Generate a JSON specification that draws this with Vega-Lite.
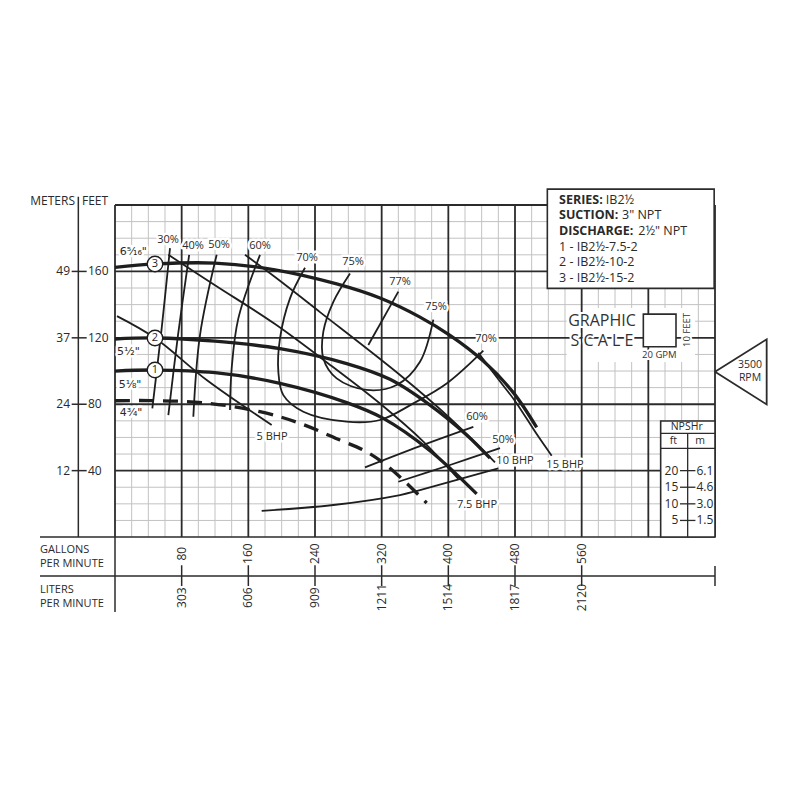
{
"$schema": "https://vega.github.io/schema/vega-lite/v6.json",
"width": 800, "height": 800, "autosize": {"type": "none"}, "padding": 0,
"background": "white",
"config": {"view": {"stroke": null}, "font": "Open Sans"},
"encoding": {
  "x": {"field": "x", "type": "quantitative", "scale": {"domain": [-138, 822], "nice": false, "zero": false}, "axis": null},
  "y": {"field": "y", "type": "quantitative", "scale": {"domain": [-158.4, 323.5], "nice": false, "zero": false}, "axis": null}
},
"datasets": {
  "minor": [
    {"x":20,"x2":20,"y":0,"y2":200},{"x":40,"x2":40,"y":0,"y2":200},{"x":60,"x2":60,"y":0,"y2":200},{"x":100,"x2":100,"y":0,"y2":200},
    {"x":120,"x2":120,"y":0,"y2":200},{"x":140,"x2":140,"y":0,"y2":200},{"x":180,"x2":180,"y":0,"y2":200},{"x":200,"x2":200,"y":0,"y2":200},
    {"x":220,"x2":220,"y":0,"y2":200},{"x":260,"x2":260,"y":0,"y2":200},{"x":280,"x2":280,"y":0,"y2":200},{"x":300,"x2":300,"y":0,"y2":200},
    {"x":340,"x2":340,"y":0,"y2":200},{"x":360,"x2":360,"y":0,"y2":200},{"x":380,"x2":380,"y":0,"y2":200},{"x":420,"x2":420,"y":0,"y2":200},
    {"x":440,"x2":440,"y":0,"y2":200},{"x":460,"x2":460,"y":0,"y2":200},{"x":500,"x2":500,"y":0,"y2":200},{"x":520,"x2":520,"y":0,"y2":200},
    {"x":540,"x2":540,"y":0,"y2":200},{"x":580,"x2":580,"y":0,"y2":200},{"x":600,"x2":600,"y":0,"y2":200},{"x":620,"x2":620,"y":0,"y2":200},
    {"x":660,"x2":660,"y":0,"y2":200},{"x":680,"x2":680,"y":0,"y2":200},{"x":700,"x2":700,"y":0,"y2":200},
    {"x":0,"x2":720,"y":10,"y2":10},{"x":0,"x2":720,"y":20,"y2":20},{"x":0,"x2":720,"y":30,"y2":30},{"x":0,"x2":720,"y":50,"y2":50},
    {"x":0,"x2":720,"y":60,"y2":60},{"x":0,"x2":720,"y":70,"y2":70},{"x":0,"x2":720,"y":90,"y2":90},{"x":0,"x2":720,"y":100,"y2":100},
    {"x":0,"x2":720,"y":110,"y2":110},{"x":0,"x2":720,"y":130,"y2":130},{"x":0,"x2":720,"y":140,"y2":140},{"x":0,"x2":720,"y":150,"y2":150},
    {"x":0,"x2":720,"y":170,"y2":170},{"x":0,"x2":720,"y":180,"y2":180},{"x":0,"x2":720,"y":190,"y2":190}
  ],
  "gsbg": [{"x":542,"x2":696,"y":138,"y2":105.4}],
  "major": [
    {"x":0,"x2":0,"y":0,"y2":200},{"x":80,"x2":80,"y":0,"y2":200},{"x":160,"x2":160,"y":0,"y2":200},{"x":240,"x2":240,"y":0,"y2":200},
    {"x":320,"x2":320,"y":0,"y2":200},{"x":400,"x2":400,"y":0,"y2":200},{"x":480,"x2":480,"y":0,"y2":200},{"x":560,"x2":560,"y":0,"y2":200},
    {"x":640,"x2":640,"y":0,"y2":200},{"x":720,"x2":720,"y":0,"y2":200},
    {"x":0,"x2":720,"y":40,"y2":40},{"x":0,"x2":720,"y":80,"y2":80},{"x":0,"x2":720,"y":120,"y2":120},{"x":0,"x2":720,"y":160,"y2":160},{"x":0,"x2":720,"y":200,"y2":200}
  ],
  "axislines": [
    {"x":-44,"x2":-44,"y":205,"y2":0},
    {"x":-90,"x2":720,"y":0,"y2":0},
    {"x":-90,"x2":720,"y":-23.5,"y2":-23.5},
    {"x":0,"x2":0,"y":0,"y2":-45.2},
    {"x":720,"x2":720,"y":-17.5,"y2":-29.5},
    {"x":-52,"x2":-34,"y":160,"y2":160},{"x":-52,"x2":-34,"y":120,"y2":120},{"x":-52,"x2":-34,"y":80,"y2":80},{"x":-52,"x2":-34,"y":40,"y2":40},
    {"x":80,"x2":80,"y":-17,"y2":-29.5},{"x":160,"x2":160,"y":-17,"y2":-29.5},{"x":240,"x2":240,"y":-17,"y2":-29.5},{"x":320,"x2":320,"y":-17,"y2":-29.5},
    {"x":400,"x2":400,"y":-17,"y2":-29.5},{"x":480,"x2":480,"y":-17,"y2":-29.5},{"x":560,"x2":560,"y":-17,"y2":-29.5}
  ],
  "boxes": [
    {"x":518.8,"x2":719,"y":209.6,"y2":149.8},
    {"x":654.8,"x2":720,"y":69.9,"y2":0},
    {"x":634,"x2":673.2,"y":134.3,"y2":114.6}
  ],
  "npshlines": [
    {"x":654.8,"x2":720,"y":62.5,"y2":62.5},{"x":654.8,"x2":720,"y":53.4,"y2":53.4},{"x":687.2,"x2":687.2,"y":62.5,"y2":0},
    {"x":678,"x2":696.5,"y":40,"y2":40},{"x":678,"x2":696.5,"y":30,"y2":30},{"x":678,"x2":696.5,"y":20,"y2":20},{"x":678,"x2":696.5,"y":10,"y2":10}
  ],
  "heads": [
    {"g":"c3","o":1,"x":0,"y":162.5},{"g":"c3","o":2,"x":48,"y":164.5},{"g":"c3","o":3,"x":120,"y":165},{"g":"c3","o":4,"x":192,"y":161},
    {"g":"c3","o":5,"x":266,"y":152.5},{"g":"c3","o":6,"x":318,"y":144},{"g":"c3","o":7,"x":366,"y":132.5},{"g":"c3","o":8,"x":402,"y":121.5},
    {"g":"c3","o":9,"x":442,"y":106},{"g":"c3","o":10,"x":478,"y":87},{"g":"c3","o":11,"x":506,"y":66},
    {"g":"c2","o":1,"x":0,"y":119.3},{"g":"c2","o":2,"x":48,"y":119.9},{"g":"c2","o":3,"x":120,"y":118},{"g":"c2","o":4,"x":198,"y":113.5},
    {"g":"c2","o":5,"x":278,"y":104.5},{"g":"c2","o":6,"x":330,"y":95},{"g":"c2","o":7,"x":378,"y":79.5},{"g":"c2","o":8,"x":422,"y":61.5},
    {"g":"c2","o":9,"x":450,"y":47.5},
    {"g":"c1","o":1,"x":0,"y":100},{"g":"c1","o":2,"x":48,"y":100.6},{"g":"c1","o":3,"x":120,"y":99},{"g":"c1","o":4,"x":198,"y":92.6},
    {"g":"c1","o":5,"x":278,"y":81},{"g":"c1","o":6,"x":322,"y":71.5},{"g":"c1","o":7,"x":378,"y":52},{"g":"c1","o":8,"x":434,"y":26}
  ],
  "dashed": [
    {"o":1,"x":0,"y":82.1},{"o":2,"x":42,"y":82.2},{"o":3,"x":106,"y":80.9},{"o":4,"x":174,"y":75.5},{"o":5,"x":222,"y":68.5},
    {"o":6,"x":270,"y":58.4},{"o":7,"x":298,"y":52.4},{"o":8,"x":320,"y":45.4},{"o":9,"x":346,"y":34.3},{"o":10,"x":374,"y":20.5}
  ],
  "thin": [
    {"g":"e30","o":1,"x":66,"y":174},{"g":"e30","o":2,"x":56,"y":125.7},{"g":"e30","o":3,"x":44.8,"y":77.5},
    {"g":"e40","o":1,"x":89,"y":170},{"g":"e40","o":2,"x":75.6,"y":121.7},{"g":"e40","o":3,"x":64,"y":73.5},
    {"g":"e50","o":1,"x":122,"y":170},{"g":"e50","o":2,"x":102,"y":121.7},{"g":"e50","o":3,"x":94,"y":72.5},
    {"g":"e60","o":1,"x":174,"y":170},{"g":"e60","o":2,"x":148,"y":131.7},{"g":"e60","o":3,"x":140,"y":101.6},{"g":"e60","o":4,"x":138,"y":76.5},
    {"g":"e70","o":1,"x":228,"y":162.2},{"g":"e70","o":2,"x":210,"y":143.8},{"g":"e70","o":3,"x":198,"y":119.7},{"g":"e70","o":4,"x":196,"y":99.6},
    {"g":"e70","o":5,"x":202,"y":85.5},{"g":"e70","o":6,"x":226,"y":75.5},{"g":"e70","o":7,"x":278,"y":69.5},{"g":"e70","o":8,"x":318,"y":70.5},
    {"g":"e70","o":9,"x":358,"y":80.5},{"g":"e70","o":10,"x":398,"y":92.5},{"g":"e70","o":11,"x":442,"y":112.3},
    {"g":"e75","o":1,"x":282,"y":158.8},{"g":"e75","o":2,"x":262,"y":141.7},{"g":"e75","o":3,"x":250,"y":123.7},{"g":"e75","o":4,"x":250,"y":107.6},
    {"g":"e75","o":5,"x":266,"y":95.6},{"g":"e75","o":6,"x":302,"y":88.6},{"g":"e75","o":7,"x":338,"y":91.6},{"g":"e75","o":8,"x":366,"y":105.6},
    {"g":"e75","o":9,"x":382,"y":131},
    {"g":"e77","o":1,"x":340,"y":147.8},{"g":"e77","o":2,"x":304,"y":115.7},
    {"g":"e60r","o":1,"x":300,"y":42},{"g":"e60r","o":2,"x":366,"y":54.8},{"g":"e60r","o":3,"x":430,"y":66.4},
    {"g":"e50r","o":1,"x":340,"y":33.3},{"g":"e50r","o":2,"x":402,"y":43.4},{"g":"e50r","o":3,"x":462,"y":53.6},
    {"g":"npsh","o":1,"x":176,"y":15.7},{"g":"npsh","o":2,"x":262,"y":19.3},{"g":"npsh","o":3,"x":342,"y":25.3},{"g":"npsh","o":4,"x":366,"y":28.3},{"g":"npsh","o":5,"x":460,"y":41.4},
    {"g":"b5","o":1,"x":2.4,"y":133.1},{"g":"b5","o":2,"x":48,"y":119.9},{"g":"b5","o":3,"x":110,"y":94.6},{"g":"b5","o":4,"x":188,"y":67.5},
    {"g":"b75","o":1,"x":64,"y":170},{"g":"b75","o":2,"x":120,"y":151.7},{"g":"b75","o":3,"x":192,"y":128.3},{"g":"b75","o":4,"x":260,"y":103},
    {"g":"b75","o":5,"x":318,"y":80.4},{"g":"b75","o":6,"x":370,"y":57.5},{"g":"b75","o":7,"x":412,"y":35},
    {"g":"b10","o":1,"x":156,"y":170},{"g":"b10","o":2,"x":192,"y":156.6},{"g":"b10","o":3,"x":246,"y":135.5},{"g":"b10","o":4,"x":342,"y":97.6},
    {"g":"b10","o":5,"x":400,"y":72.5},{"g":"b10","o":6,"x":456,"y":45},
    {"g":"b15","o":1,"x":436,"y":111},{"g":"b15","o":2,"x":460,"y":95},{"g":"b15","o":3,"x":480,"y":82},{"g":"b15","o":4,"x":506,"y":62},{"g":"b15","o":5,"x":524,"y":49}
  ],
  "triangle": [
    {"o":1,"x":720,"y":99.6},{"o":2,"x":782,"y":119.1},{"o":3,"x":782,"y":79.9},{"o":4,"x":720,"y":99.6}
  ],
  "curvelabels": [
    {"x":63.6,"y":178.9,"t":"30%"},{"x":93.6,"y":175.3,"t":"40%"},{"x":124.8,"y":175.9,"t":"50%"},{"x":174,"y":175.3,"t":"60%"},
    {"x":230.4,"y":168.1,"t":"70%"},{"x":285.6,"y":165.7,"t":"75%"},{"x":342,"y":153.6,"t":"77%"},{"x":385.2,"y":138.6,"t":"75%"},
    {"x":445.2,"y":119.3,"t":"70%"},{"x":434.4,"y":72.3,"t":"60%"},{"x":465.6,"y":58.4,"t":"50%"},
    {"x":188.4,"y":60.2,"t":"5 BHP"},{"x":480,"y":45.8,"t":"10 BHP"},{"x":540,"y":43.4,"t":"15 BHP"},{"x":434.4,"y":19.3,"t":"7.5 BHP"}
  ],
  "sizelabels": [
    {"x":22,"y":171.9,"t":"6⁵⁄₁₆\""},{"x":16,"y":111.6,"t":"5¹⁄₂\""},{"x":18,"y":91.6,"t":"5¹⁄₈\""},{"x":19.2,"y":74.5,"t":"4³⁄₄\""}
  ],
  "circles": [{"x":48,"y":164.5,"t":"3"},{"x":48,"y":119.9,"t":"2"},{"x":48,"y":100.6,"t":"1"}],
  "legbold": [{"x":532.8,"y":203,"t":"SERIES:"},{"x":532.8,"y":193.7,"t":"SUCTION:"},{"x":532.8,"y":184.3,"t":"DISCHARGE:"}],
  "legnorm": [
    {"x":589,"y":203,"t":"IB2½"},{"x":608.5,"y":193.7,"t":"3\" NPT"},{"x":628,"y":184.3,"t":"2½\" NPT"},
    {"x":532.8,"y":175,"t":"1 - IB2½-7.5-2"},{"x":532.8,"y":165.7,"t":"2 - IB2½-10-2"},{"x":532.8,"y":156.3,"t":"3 - IB2½-15-2"}
  ],
  "gstext": [{"x":584.4,"y":130.3,"t":"GRAPHIC"},{"x":584.4,"y":118,"t":"S C A L E"}],
  "gssmall": [{"x":653.2,"y":109.6,"t":"20 GPM"}],
  "gsrot": [{"x":686.8,"y":124.7,"t":"10 FEET"}],
  "rpm": [{"x":762,"y":103.9,"t":"3500"},{"x":762,"y":96.1,"t":"RPM"}],
  "npshc": [{"x":686,"y":66.4,"t":"NPSHr"},{"x":670,"y":57.6,"t":"ft"},{"x":702,"y":57.6,"t":"m"}],
  "npshl": [{"x":676,"y":40,"t":"20"},{"x":676,"y":30,"t":"15"},{"x":676,"y":20,"t":"10"},{"x":676,"y":10,"t":"5"}],
  "npshr": [{"x":697.8,"y":40,"t":"6.1"},{"x":697.8,"y":30,"t":"4.6"},{"x":697.8,"y":20,"t":"3.0"},{"x":697.8,"y":10,"t":"1.5"}],
  "leftright": [
    {"x":-48,"y":202.4,"t":"METERS"},
    {"x":-54,"y":160,"t":"49"},{"x":-54,"y":120,"t":"37"},{"x":-54,"y":80,"t":"24"},{"x":-54,"y":40,"t":"12"}
  ],
  "leftleft": [
    {"x":-39.6,"y":202.4,"t":"FEET"},
    {"x":-32.4,"y":160,"t":"160"},{"x":-32.4,"y":120,"t":"120"},{"x":-32.4,"y":80,"t":"80"},{"x":-32.4,"y":40,"t":"40"}
  ],
  "bottomtitles": [
    {"x":-90,"y":-7.8,"t":"GALLONS"},{"x":-90,"y":-16.3,"t":"PER MINUTE"},{"x":-90,"y":-31.9,"t":"LITERS"},{"x":-90,"y":-40.4,"t":"PER MINUTE"}
  ],
  "bottomticks": [
    {"x":80,"y":-10,"t":"80"},{"x":160,"y":-10,"t":"160"},{"x":240,"y":-10,"t":"240"},{"x":320,"y":-10,"t":"320"},
    {"x":400,"y":-10,"t":"400"},{"x":480,"y":-10,"t":"480"},{"x":560,"y":-10,"t":"560"},
    {"x":80,"y":-36.5,"t":"303"},{"x":160,"y":-36.5,"t":"606"},{"x":240,"y":-36.5,"t":"909"},{"x":320,"y":-36.5,"t":"1211"},
    {"x":400,"y":-36.5,"t":"1514"},{"x":480,"y":-36.5,"t":"1817"},{"x":560,"y":-36.5,"t":"2120"}
  ]
},
"layer": [
  {"data": {"name": "minor"}, "mark": {"type": "rule", "color": "#c2c2c2", "strokeWidth": 1}, "encoding": {"x2": {"field": "x2"}, "y2": {"field": "y2"}}},
  {"data": {"name": "gsbg"}, "mark": {"type": "rect", "color": "white"}, "encoding": {"x2": {"field": "x2"}, "y2": {"field": "y2"}}},
  {"data": {"name": "major"}, "mark": {"type": "rule", "color": "#2b2b2b", "strokeWidth": 1.8}, "encoding": {"x2": {"field": "x2"}, "y2": {"field": "y2"}}},
  {"data": {"name": "axislines"}, "mark": {"type": "rule", "color": "#2b2b2b", "strokeWidth": 1.5}, "encoding": {"x2": {"field": "x2"}, "y2": {"field": "y2"}}},
  {"data": {"name": "boxes"}, "mark": {"type": "rect", "fill": "white", "stroke": "#2b2b2b", "strokeWidth": 1.6}, "encoding": {"x2": {"field": "x2"}, "y2": {"field": "y2"}}},
  {"data": {"name": "npshlines"}, "mark": {"type": "rule", "color": "#2b2b2b", "strokeWidth": 1.3}, "encoding": {"x2": {"field": "x2"}, "y2": {"field": "y2"}}},
  {"data": {"name": "thin"}, "mark": {"type": "line", "color": "#1e1e1e", "strokeWidth": 1.8, "interpolate": "catmull-rom"}, "encoding": {"detail": {"field": "g"}, "order": {"field": "o"}}},
  {"data": {"name": "heads"}, "mark": {"type": "line", "color": "#1e1e1e", "strokeWidth": 3.3, "interpolate": "catmull-rom"}, "encoding": {"detail": {"field": "g"}, "order": {"field": "o"}}},
  {"data": {"name": "dashed"}, "mark": {"type": "line", "color": "#1e1e1e", "strokeWidth": 3.3, "strokeDash": [15, 9], "interpolate": "catmull-rom"}, "encoding": {"order": {"field": "o"}}},
  {"data": {"name": "triangle"}, "mark": {"type": "line", "color": "#2b2b2b", "strokeWidth": 1.8}, "encoding": {"order": {"field": "o"}}},
  {"data": {"name": "curvelabels"}, "mark": {"type": "text", "fontSize": 11, "stroke": "white", "strokeWidth": 5, "strokeJoin": "round", "fill": "white"}, "encoding": {"text": {"field": "t"}}},
  {"data": {"name": "curvelabels"}, "mark": {"type": "text", "fontSize": 11, "fill": "#2a2a2a"}, "encoding": {"text": {"field": "t"}}},
  {"data": {"name": "sizelabels"}, "mark": {"type": "text", "fontSize": 11, "font": "DejaVu Sans", "stroke": "white", "strokeWidth": 5, "strokeJoin": "round", "fill": "white"}, "encoding": {"text": {"field": "t"}}},
  {"data": {"name": "sizelabels"}, "mark": {"type": "text", "fontSize": 11, "font": "DejaVu Sans", "fill": "#2a2a2a"}, "encoding": {"text": {"field": "t"}}},
  {"data": {"name": "circles"}, "mark": {"type": "point", "shape": "circle", "size": 240, "filled": true, "fill": "white", "stroke": "#1e1e1e", "strokeWidth": 1.4, "opacity": 1}},
  {"data": {"name": "circles"}, "mark": {"type": "text", "fontSize": 11, "fill": "#1e1e1e"}, "encoding": {"text": {"field": "t"}}},
  {"data": {"name": "legbold"}, "mark": {"type": "text", "fontSize": 12.5, "fontWeight": "bold", "align": "left", "fill": "#2a2a2a"}, "encoding": {"text": {"field": "t"}}},
  {"data": {"name": "legnorm"}, "mark": {"type": "text", "fontSize": 12.5, "align": "left", "fill": "#2a2a2a"}, "encoding": {"text": {"field": "t"}}},
  {"data": {"name": "gstext"}, "mark": {"type": "text", "fontSize": 16, "stroke": "white", "strokeWidth": 4, "fill": "white"}, "encoding": {"text": {"field": "t"}}},
  {"data": {"name": "gstext"}, "mark": {"type": "text", "fontSize": 16, "fill": "#333333"}, "encoding": {"text": {"field": "t"}}},
  {"data": {"name": "gssmall"}, "mark": {"type": "text", "fontSize": 9.5, "stroke": "white", "strokeWidth": 4, "fill": "white"}, "encoding": {"text": {"field": "t"}}},
  {"data": {"name": "gssmall"}, "mark": {"type": "text", "fontSize": 9.5, "fill": "#333333"}, "encoding": {"text": {"field": "t"}}},
  {"data": {"name": "gsrot"}, "mark": {"type": "text", "fontSize": 9.5, "angle": 270, "stroke": "white", "strokeWidth": 4, "fill": "white"}, "encoding": {"text": {"field": "t"}}},
  {"data": {"name": "gsrot"}, "mark": {"type": "text", "fontSize": 9.5, "angle": 270, "fill": "#333333"}, "encoding": {"text": {"field": "t"}}},
  {"data": {"name": "rpm"}, "mark": {"type": "text", "fontSize": 10.5, "fill": "#2a2a2a"}, "encoding": {"text": {"field": "t"}}},
  {"data": {"name": "npshc"}, "mark": {"type": "text", "fontSize": 10.5, "fill": "#2a2a2a"}, "encoding": {"text": {"field": "t"}}},
  {"data": {"name": "npshl"}, "mark": {"type": "text", "fontSize": 12, "align": "right", "fill": "#2a2a2a"}, "encoding": {"text": {"field": "t"}}},
  {"data": {"name": "npshr"}, "mark": {"type": "text", "fontSize": 12, "align": "left", "fill": "#2a2a2a"}, "encoding": {"text": {"field": "t"}}},
  {"data": {"name": "leftright"}, "mark": {"type": "text", "fontSize": 12, "align": "right", "fill": "#2a2a2a"}, "encoding": {"text": {"field": "t"}}},
  {"data": {"name": "leftleft"}, "mark": {"type": "text", "fontSize": 12, "align": "left", "fill": "#2a2a2a"}, "encoding": {"text": {"field": "t"}}},
  {"data": {"name": "bottomtitles"}, "mark": {"type": "text", "fontSize": 11, "align": "left", "fill": "#2a2a2a"}, "encoding": {"text": {"field": "t"}}},
  {"data": {"name": "bottomticks"}, "mark": {"type": "text", "fontSize": 12, "angle": 270, "fill": "#2a2a2a"}, "encoding": {"text": {"field": "t"}}}
]
}
